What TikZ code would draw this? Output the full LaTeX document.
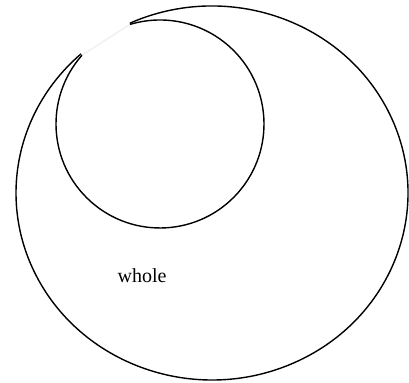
\documentclass[tikz,border=0pt]{standalone}
\usepackage{fontspec}
\setmainfont{Liberation Serif}
\usetikzlibrary{calc}

\begin{document}
\begin{tikzpicture}[x=0.5pt,y=0.5pt,line width=0.7pt]
  \useasboundingbox (0,0) rectangle (409,383);
  \coordinate (inner) at (160,259);
  \coordinate (outer) at (212,190);
  \draw (inner) ++(138.5:104) coordinate (tipb)
    arc[start angle=138.5,end angle=466.9,radius=104] coordinate (tipa);
  \draw (outer) ++(114.8:196 and 187)
    arc[start angle=114.8,end angle=-228.1,x radius=196,y radius=187];
  \draw[black!6] (tipb) -- (tipa);
  \node (whole) at (142,107) {whole};
\end{tikzpicture}
\end{document}
